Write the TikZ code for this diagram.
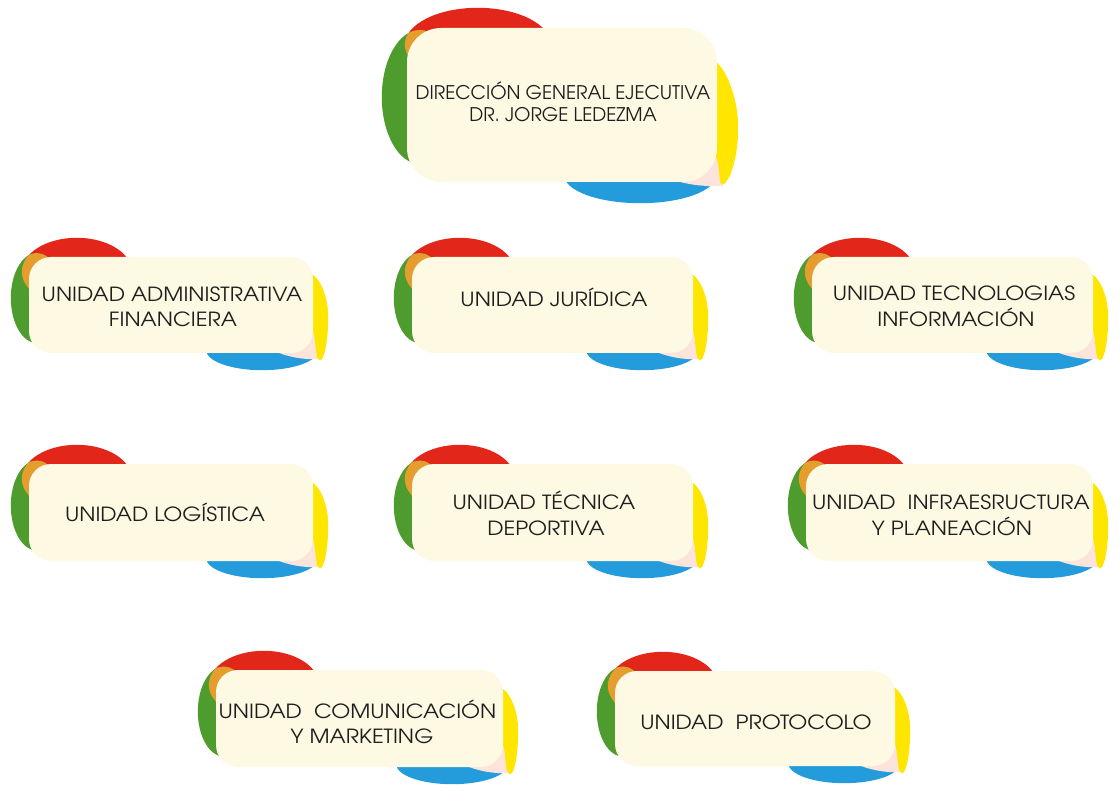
\documentclass[tikz,border=0pt]{standalone}
\usepackage{fontspec}
\setmainfont{TeX Gyre Adventor}
\newfontfamily\cardfont{TeX Gyre Adventor}[FakeStretch=1.12]
\usetikzlibrary{calc}
\pgfdeclarelayer{background}
\pgfsetlayers{background,main}

\definecolor{petalred}{HTML}{E3261A}
\definecolor{petalgreen}{HTML}{4E9C2D}
\definecolor{petalorange}{HTML}{E59D2D}
\definecolor{petalyellow}{HTML}{FFE600}
\definecolor{petalblue}{HTML}{249CDC}
\definecolor{petalpink}{HTML}{FCE4DC}
\definecolor{cardfill}{HTML}{FEF9E2}
\definecolor{cardtext}{HTML}{1E1E1E}

% geometry (px, y downwards) of the coloured petals behind a card
\pgfkeys{/petal/.cd,
  rdx/.initial=48, rdy/.initial=15, rrx/.initial=55, rry/.initial=34,
  gdx/.initial=8,  gdy/.initial=-7, grx/.initial=26, gry/.initial=45,
  bdx/.initial=-51,bdy/.initial=-3, brx/.initial=56, bry/.initial=20,
  yt/.initial=-81, yr/.initial=15, yb/.initial=7, ybx/.initial=7,
  pl/.initial=45, pb/.initial=6}
\newcommand\pv[1]{\pgfkeysvalueof{/petal/#1}}

\newcommand\petals[2][]{%
  \begingroup
  \pgfkeys{/petal/.cd,#1}%
  \begin{pgfonlayer}{background}
    \path ($(#2.north west)+(\pv{rdx},\pv{rdy})$) coordinate (#2-r)
          ($(#2.west)+(\pv{gdx},\pv{gdy})$) coordinate (#2-g)
          ($(#2.south east)+(\pv{bdx},\pv{bdy})$) coordinate (#2-b);
    % red and green petals, orange where they overlap
    \fill[petalred] (#2-r) ellipse [x radius=\pv{rrx}, y radius=\pv{rry}];
    \fill[petalgreen] (#2-g) ellipse [x radius=\pv{grx}, y radius=\pv{gry}];
    \begin{scope}
      \clip (#2-r) ellipse [x radius=\pv{rrx}, y radius=\pv{rry}];
      \fill[petalorange] (#2-g) ellipse [x radius=\pv{grx}, y radius=\pv{gry}];
    \end{scope}
    % blue petal, pink corner and yellow petal
    \fill[petalblue] (#2-b) ellipse [x radius=\pv{brx}, y radius=\pv{bry}];
    \begin{scope}[shift={(#2.south east)}]
      \fill[petalpink] (-\pv{pl},-5)
        .. controls (-0.7*\pv{pl},2) and (-0.35*\pv{pl},\pv{pb}) .. (0,\pv{pb})
        -- (6,\pv{pb}) -- (6,-40) -- (-\pv{pl},-40) -- cycle;
      \fill[petalyellow] (-8,\pv{yt})
        .. controls (6,\pv{yt}) and (\pv{yr},0.7*\pv{yt}) .. (\pv{yr},0.45*\pv{yt})
        .. controls (\pv{yr},0.15*\pv{yt}) and (\pv{ybx}+4,\pv{yb}) .. (\pv{ybx},\pv{yb})
        .. controls (\pv{ybx}-3,\pv{yb}) and (3,2) .. (2,-10)
        .. controls (1,-25) and (-5,-35) .. (-12,0.45*\pv{yt}) -- cycle;
    \end{scope}
  \end{pgfonlayer}%
  \endgroup}

\tikzset{
  card/.style={fill=cardfill, rounded corners=22pt, inner sep=0pt,
    minimum height=96pt},
  headcard/.style={card, rounded corners=34pt, minimum width=310pt,
    minimum height=154pt},
  cardline/.style={anchor=base, inner sep=0pt, text=cardtext,
    font=\cardfont\fontsize{19.5}{22}\selectfont},
  headline/.style={cardline, font=\rmfamily\fontsize{18.8}{22}\selectfont}
}

\begin{document}
\begin{tikzpicture}[x=1pt, y=-1pt]
  \useasboundingbox (0,0) rectangle (1120,794);

  % cards
  \node[headcard] (dge) at (562,105) {};
  \node[card, minimum width=284pt] (uaf) at (171,305) {};
  \node[card, minimum width=281pt] (uj) at (552.5,305) {};
  \node[card, minimum width=281pt] (uti) at (952.5,305) {};
  \node[card, minimum width=284pt, minimum height=97pt] (ul) at (171,512.5) {};
  \node[card, minimum width=281pt, minimum height=97pt] (utd) at (552.5,512.5) {};
  \node[card, minimum width=287pt, minimum height=97pt] (uip) at (949.5,512.5) {};
  \node[card, minimum width=287pt, minimum height=97pt] (ucm) at (359.5,718.5) {};
  \node[card, minimum width=280pt, minimum height=95pt] (up) at (755,718.5) {};

  % card texts, one node per line
  \node[headline] (dge-1) at (563,100) {DIRECCIÓN GENERAL EJECUTIVA};
  \node[headline] (dge-2) at (563,122) {DR. JORGE LEDEZMA};
  \node[cardline] (uaf-1) at (172,302) {UNIDAD ADMINISTRATIVA};
  \node[cardline] (uaf-2) at (173,327) {FINANCIERA};
  \node[cardline] (uj-1)  at (554,307) {UNIDAD JURÍDICA};
  \node[cardline] (uti-1) at (954,301) {UNIDAD TECNOLOGIAS};
  \node[cardline] (uti-2) at (956,327) {INFORMACIÓN};
  \node[cardline] (ul-1)  at (165,521) {UNIDAD LOGÍSTICA};
  \node[cardline] (utd-1) at (544,509) {UNIDAD TÉCNICA};
  \node[cardline] (utd-2) at (546,535) {DEPORTIVA};
  \node[cardline] (uip-1) at (951,509) {UNIDAD\ \ INFRAESRUCTURA};
  \node[cardline] (uip-2) at (952,535) {Y PLANEACIÓN};
  \node[cardline] (ucm-1) at (357.5,718) {UNIDAD\ \ COMUNICACIÓN};
  \node[cardline] (ucm-2) at (362,743) {Y MARKETING};
  \node[cardline] (up-1)  at (756,729) {UNIDAD\ \ PROTOCOLO};

  % coloured petals behind the cards
  \petals[rdx=71, rdy=17, rrx=73, rry=37,
          gdx=13, gdy=-8, grx=38, gry=67,
          bdx=-77, bdy=-7, brx=76, bry=28,
          yt=-123, yr=21, yb=2, ybx=6, pl=50, pb=4]{dge}
  \petals{uaf}
  \petals{uj}
  \petals{uti}
  \petals{ul}
  \petals{utd}
  \petals{uip}
  \petals{ucm}
  \petals{up}
\end{tikzpicture}
\end{document}
